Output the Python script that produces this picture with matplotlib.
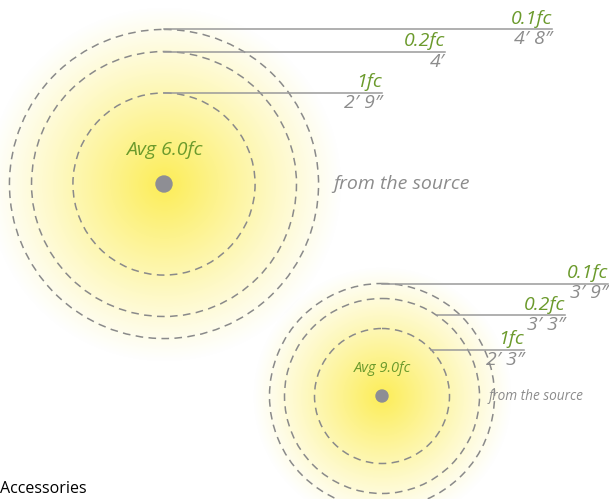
import numpy as np
import matplotlib.pyplot as plt
from matplotlib.patches import Circle

# illuminance rings for two fixtures, distances in inches from the source
levels = ["0.1fc", "0.2fc", "1fc"]
big_dist_in = [56, 48, 33]
big_dist_lbl = ["4\u2032 8\u2033", "4\u2032", "2\u2032 9\u2033"]
big_avg = "Avg 6.0fc"
small_dist_in = [45, 39, 27]
small_dist_lbl = ["3\u2032 9\u2033", "3\u2032 3\u2033", "2\u2032 3\u2033"]
small_avg = "Avg 9.0fc"

GREEN = "#6b9a2c"
GRAY_TXT = "#8c8c8c"
LINE = "#9a9a9a"
RING = "#8a8a8a"
FONT = "Open Sans"

fig = plt.figure(figsize=(6.09, 4.99), dpi=100)
ax = fig.add_axes([0, 0, 1, 1])
ax.set_xlim(0, 609)
ax.set_ylim(499, 0)
ax.set_aspect("equal")
ax.axis("off")


def glow(cx, cy, R):
    yy, xx = np.mgrid[0:499, 0:609]
    r = np.hypot(xx - cx, yy - cy) / R
    a = np.clip(1 - r, 0, 1) ** 1.1
    img = np.zeros((499, 609, 4))
    img[..., 0] = 0.99
    img[..., 1] = 0.93
    img[..., 2] = 0.34
    img[..., 3] = a
    ax.imshow(img, extent=(0, 609, 499, 0), zorder=1, interpolation="bilinear")


def diagram(cx, cy, dists, dist_lbls, scale, ends, angles, avg, avg_dy,
            avg_fs, src_x, src_fs, dot_r, glow_r):
    glow(cx, cy, glow_r)
    for d in dists:
        ax.add_patch(Circle((cx, cy), d * scale, fill=False, ec=RING, lw=1.1,
                            ls=(0, (5, 3.5)), zorder=3))
    for d, lvl, lbl, xe, ang in zip(dists, levels, dist_lbls, ends, angles):
        r = d * scale
        t = np.radians(ang)
        x0, y0 = cx + r * np.cos(t), cy - r * np.sin(t)
        ax.plot([x0, xe], [y0, y0], color=LINE, lw=1.1, zorder=4)
        ax.text(xe, y0 - 1.5, lvl, ha="right", va="bottom", color=GREEN,
                fontsize=14, style="italic", family=FONT, zorder=5)
        ax.text(xe, y0 + 1, lbl, ha="right", va="top", color=GRAY_TXT,
                fontsize=14, style="italic", family=FONT, zorder=5)
    ax.add_patch(Circle((cx, cy), dot_r, color="#8e8e94", zorder=6))
    ax.text(cx, cy - avg_dy, avg, ha="center", va="center", color=GREEN,
            fontsize=avg_fs, style="italic", family=FONT, zorder=5)
    ax.text(src_x, cy, "from the source", ha="left", va="center",
            color=GRAY_TXT, fontsize=src_fs, style="italic", family=FONT,
            zorder=5)


diagram(164, 184, big_dist_in, big_dist_lbl, 2.76, [552, 445, 382],
        [90, 90, 90], big_avg, 34, 14, 333, 14, 8, 178)
diagram(382, 396, small_dist_in, small_dist_lbl, 2.5, [608, 565, 524],
        [90, 56, 43], small_avg, 27, 10.5, 489, 9.8, 6, 130)

ax.text(0, 497, "Accessories", ha="left", va="bottom", color="black",
        fontsize=11.5, family=FONT, zorder=5)

fig.savefig("out.png", dpi=100)
